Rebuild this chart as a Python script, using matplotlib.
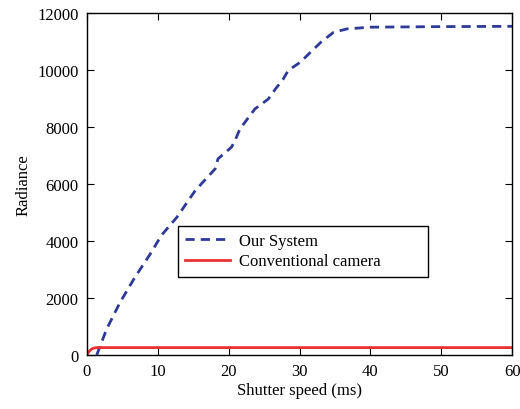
import matplotlib
matplotlib.use('Agg')
import matplotlib.pyplot as plt

# Our System curve
sys_x = [1.4, 2.8, 4.7, 6.8, 9.1, 10.5, 12.7, 15.3, 18.1, 18.5, 20.4, 20.9, 21.6,
         23.7, 25.6, 26.6, 27.7, 28.4, 30.1, 33.0, 34.8, 36.7, 40.0, 50.0, 60.0]
sys_y = [0, 910, 1850, 2730, 3600, 4190, 4830, 5770, 6530, 6880, 7290, 7520, 7930,
         8630, 8980, 9330, 9680, 9980, 10270, 10970, 11320, 11440, 11500, 11520, 11530]

# Conventional camera curve
conv_x = [0, 0.3, 0.7, 1.1, 1.5, 60]
conv_y = [0, 120, 210, 245, 255, 255]

plt.rcParams['font.family'] = 'Liberation Serif'
plt.rcParams['font.size'] = 12

fig = plt.figure(figsize=(5.2, 4.1), dpi=100)
ax = fig.add_axes([0.167, 0.132, 0.818, 0.834])

ax.plot(sys_x, sys_y, color='#2e3a98', lw=2.0, ls='--', dashes=(3.3, 2.2), label='Our System')
ax.plot(conv_x, conv_y, color='#e8302f', lw=2.0, label='Conventional camera')

ax.set_xlim(0, 60)
ax.set_ylim(0, 12000)
ax.set_xticks([0, 10, 20, 30, 40, 50, 60])
ax.set_yticks([0, 2000, 4000, 6000, 8000, 10000, 12000])
ax.tick_params(direction='in', top=True, right=True, length=5, width=0.8, pad=6)
for s in ax.spines.values():
    s.set_linewidth(1.0)

ax.set_xlabel('Shutter speed (ms)', labelpad=2)
ax.set_ylabel('Radiance', labelpad=4)

leg = ax.legend(loc='lower left', bbox_to_anchor=(0.214, 0.228, 0.588, 0.146), mode='expand',
                fancybox=False, edgecolor='black', framealpha=1, handlelength=2.7,
                borderaxespad=0, borderpad=0.45, labelspacing=0.25, handletextpad=0.5)
leg.get_frame().set_linewidth(1.0)

fig.savefig('out.png', dpi=100)
